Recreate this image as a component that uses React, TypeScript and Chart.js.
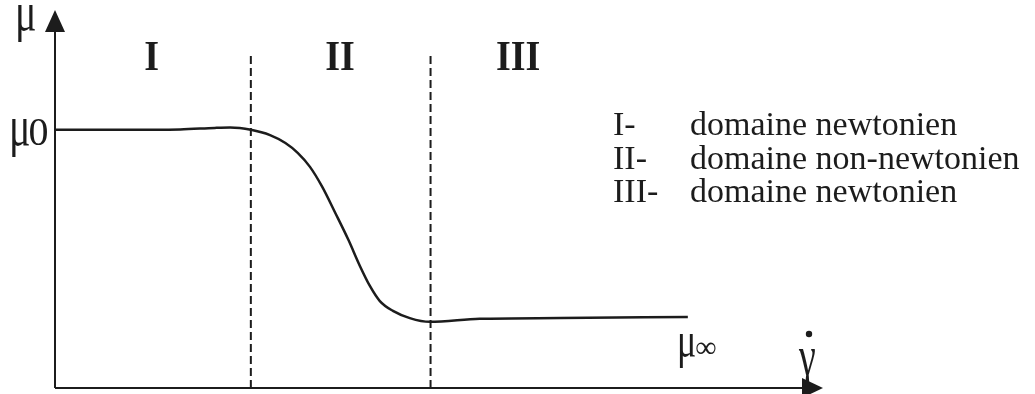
import React, { useEffect, useRef } from "react";
import { Chart, registerables } from "chart.js";

Chart.register(...registerables);

// Flow curve: viscosity μ versus shear rate γ̇ (arbitrary units, 0–100 on both axes)
const shearRate = [0, 8.5, 16.3, 20.8, 22.8, 25.5, 28.0, 30.0, 31.6, 33.2, 34.8, 36.5, 38.2, 39.7, 41.0, 42.3, 44.0, 46.2, 48.8, 55.3, 65.8, 82.4];
const viscosity = [68.3, 68.3, 68.4, 68.8, 68.9, 68.3, 66.9, 64.8, 62.2, 58.5, 53.2, 46.3, 39.2, 32.3, 27.0, 23.0, 20.4, 18.5, 17.5, 18.3, 18.5, 18.8];

// Boundaries between the three flow regimes and the height of the dashed separators
const regimeBounds = [25.5, 48.9];
const separatorTop = 88.9;

// Regime names and where they sit along the shear-rate axis
const regimeNames = ["I", "II", "III"];
const regimeCenters = [12.6, 37.1, 60.3];

// Key on the right
const keyMarks = ["I-", "II-", "III-"];
const keyTexts = ["domaine newtonien", "domaine non-newtonien", "domaine newtonien"];

const INK = "#1c1c1c";
const SERIF = '"Liberation Serif", "Times New Roman", serif';

// draw text stretched vertically (tall symbol glyphs)
function tallText(ctx: CanvasRenderingContext2D, text: string, x: number, y: number, font: string, sy: number) {
  ctx.save();
  ctx.font = font;
  ctx.translate(x, y);
  ctx.scale(1, sy);
  ctx.fillText(text, 0, 0);
  const w = ctx.measureText(text).width;
  ctx.restore();
  return w;
}

const annotations = {
  id: "flowAnnotations",
  afterDatasetsDraw(chart: any) {
    const { ctx, chartArea, scales } = chart;
    const xs = scales.x;
    const left = chartArea.left;
    const bottom = chartArea.bottom;
    const top = chartArea.top;
    const right = chartArea.right;
    ctx.save();

    // axes with arrow heads
    ctx.strokeStyle = INK;
    ctx.fillStyle = INK;
    ctx.lineWidth = 2;
    ctx.beginPath();
    ctx.moveTo(left, bottom);
    ctx.lineTo(left, top + 22);
    ctx.moveTo(left, bottom);
    ctx.lineTo(right - 21, bottom);
    ctx.stroke();

    ctx.beginPath();
    ctx.moveTo(left, top);
    ctx.lineTo(left - 10, top + 22);
    ctx.lineTo(left + 10, top + 22);
    ctx.closePath();
    ctx.fill();

    ctx.beginPath();
    ctx.moveTo(right, bottom);
    ctx.lineTo(right - 21, bottom - 10);
    ctx.lineTo(right - 21, bottom + 10);
    ctx.closePath();
    ctx.fill();

    // regime names
    ctx.textBaseline = "alphabetic";
    ctx.textAlign = "center";
    regimeNames.forEach((name, i) => {
      tallText(ctx, name, xs.getPixelForValue(regimeCenters[i]), 70, `bold 38px ${SERIF}`, 1.1);
    });

    // axis symbols
    ctx.textAlign = "left";
    tallText(ctx, "μ", 15, 30, `40px ${SERIF}`, 1.35);
    const w0 = tallText(ctx, "μ", 9, 145, `40px ${SERIF}`, 1.45);
    ctx.font = `40px ${SERIF}`;
    ctx.fillText("0", 9 + w0 - 2, 145);
    const wInf = tallText(ctx, "μ", 677, 357, `36px ${SERIF}`, 1.4);
    ctx.font = `30px ${SERIF}`;
    ctx.fillText("∞", 677 + wInf - 1, 357);
    tallText(ctx, "γ", 799, 375, `38px ${SERIF}`, 1.5);
    ctx.beginPath();
    ctx.arc(809, 334, 3.2, 0, Math.PI * 2);
    ctx.fill();

    // key
    ctx.font = `34px ${SERIF}`;
    keyMarks.forEach((m, i) => {
      const y = 135 + i * 33.5;
      ctx.fillText(m, 613, y);
      ctx.fillText(keyTexts[i], 690, y);
    });

    ctx.restore();
  },
};

export default function App() {
  const canvasRef = useRef<HTMLCanvasElement | null>(null);

  useEffect(() => {
    const canvas = canvasRef.current;
    if (!canvas) return;

    const separators = regimeBounds.map((x) => ({
      type: "line" as const,
      data: [
        { x, y: 0 },
        { x, y: separatorTop },
      ],
      borderColor: INK,
      borderWidth: 2,
      borderDash: [8, 4],
      pointRadius: 0,
      clip: false as any,
    }));

    const chart = new Chart(canvas, {
      type: "line",
      data: {
        datasets: [
          {
            data: shearRate.map((x, i) => ({ x, y: viscosity[i] })),
            borderColor: INK,
            borderWidth: 2.5,
            pointRadius: 0,
            cubicInterpolationMode: "monotone",
            clip: false as any,
          },
          ...separators,
        ],
      },
      options: {
        animation: false,
        responsive: false,
        maintainAspectRatio: false,
        layout: { padding: { left: 55, right: 212, top: 10, bottom: 6 } },
        plugins: {
          legend: { display: false },
          tooltip: { enabled: false },
        },
        scales: {
          x: { type: "linear", min: 0, max: 100, display: false },
          y: { type: "linear", min: 0, max: 100, display: false },
        },
      },
      plugins: [annotations],
    });

    return () => chart.destroy();
  }, []);

  return (
    <div style={{ position: "fixed", left: 0, top: 0, width: 1035, height: 394, background: "#fff" }}>
      <canvas ref={canvasRef} width={1035} height={394} style={{ display: "block" }} />
    </div>
  );
}
